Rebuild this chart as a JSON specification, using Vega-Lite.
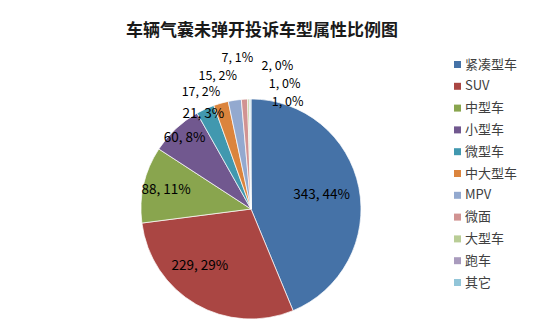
{
  "$schema": "https://vega.github.io/schema/vega-lite/v6.json",
  "width": 220,
  "height": 220,
  "autosize": {"type": "none"},
  "padding": {"left": 141, "top": 99, "right": 189, "bottom": 6},
  "background": "white",
  "title": {
    "text": "车辆气囊未弹开投诉车型属性比例图",
    "font": "Noto Sans CJK SC",
    "fontSize": 17,
    "fontWeight": "bold",
    "color": "#1a1a1a",
    "anchor": "middle",
    "frame": "group",
    "baseline": "middle",
    "dx": 11,
    "offset": 4
  },
  "data": {
    "values": [
      {"cat": "紧凑型车", "value": 343, "label": "343, 44%", "idx": 1},
      {"cat": "SUV", "value": 229, "label": "229, 29%", "idx": 2},
      {"cat": "中型车", "value": 88, "label": "88, 11%", "idx": 3},
      {"cat": "小型车", "value": 60, "label": "60, 8%", "idx": 4},
      {"cat": "微型车", "value": 21, "label": "21, 3%", "idx": 5},
      {"cat": "中大型车", "value": 17, "label": "17, 2%", "idx": 6},
      {"cat": "MPV", "value": 15, "label": "15, 2%", "idx": 7},
      {"cat": "微面", "value": 7, "label": "7, 1%", "idx": 8},
      {"cat": "大型车", "value": 2, "label": "2, 0%", "idx": 9},
      {"cat": "跑车", "value": 1, "label": "1, 0%", "idx": 10},
      {"cat": "其它", "value": 1, "label": "1, 0%", "idx": 11}
    ]
  },
  "encoding": {
    "theta": {"field": "value", "type": "quantitative", "stack": true},
    "order": {"field": "idx", "type": "quantitative", "sort": "ascending"}
  },
  "layer": [
    {
      "mark": {"type": "arc", "stroke": "white", "strokeWidth": 0.7},
      "encoding": {
        "color": {
          "field": "cat",
          "type": "nominal",
          "scale": {
            "domain": ["紧凑型车", "SUV", "中型车", "小型车", "微型车", "中大型车", "MPV", "微面", "大型车", "跑车", "其它"],
            "range": ["#4572A7", "#AA4643", "#89A54E", "#71588F", "#4198AF", "#DB843D", "#93A9CF", "#D19392", "#B9CD96", "#A99BBD", "#92C5D8"]
          },
          "legend": {
            "orient": "none",
            "legendX": 310,
            "legendY": -41,
            "title": null,
            "symbolType": "square",
            "symbolSize": 49,
            "symbolStrokeWidth": 0,
            "labelFont": "Noto Sans CJK SC",
            "labelFontSize": 13,
            "labelColor": "#404040",
            "labelOffset": 1,
            "rowPadding": 7.8,
            "padding": 0
          }
        }
      }
    },
    {
      "mark": {"type": "text", "radius": 72, "fontSize": 13.5, "font": "Noto Sans CJK SC", "color": "#000000"},
      "encoding": {"detail": {"field": "cat"}, "text": {"condition": {"test": "datum.cat === '紧凑型车'", "field": "label"}, "value": ""}}
    },
    {
      "mark": {"type": "text", "radius": 76, "dx": -13, "dy": -9, "fontSize": 13.5, "font": "Noto Sans CJK SC", "color": "#000000"},
      "encoding": {"detail": {"field": "cat"}, "text": {"condition": {"test": "datum.cat === 'SUV'", "field": "label"}, "value": ""}}
    },
    {
      "mark": {"type": "text", "radius": 87, "fontSize": 13.5, "font": "Noto Sans CJK SC", "color": "#000000"},
      "encoding": {"detail": {"field": "cat"}, "text": {"condition": {"test": "datum.cat === '中型车'", "field": "label"}, "value": ""}}
    },
    {
      "mark": {"type": "text", "radius": 97, "fontSize": 13.5, "font": "Noto Sans CJK SC", "color": "#000000"},
      "encoding": {"detail": {"field": "cat"}, "text": {"condition": {"test": "datum.cat === '小型车'", "field": "label"}, "value": ""}}
    },
    {
      "mark": {"type": "text", "radius": 105, "dx": -4, "fontSize": 13.5, "font": "Noto Sans CJK SC", "color": "#000000"},
      "encoding": {"detail": {"field": "cat"}, "text": {"condition": {"test": "datum.cat === '微型车'", "field": "label"}, "value": ""}}
    },
    {
      "mark": {"type": "text", "radius": 110, "dx": -20, "dy": -11, "fontSize": 12.5, "font": "Noto Sans CJK SC", "color": "#000000"},
      "encoding": {"detail": {"field": "cat"}, "text": {"condition": {"test": "datum.cat === '中大型车'", "field": "label"}, "value": ""}}
    },
    {
      "mark": {"type": "text", "radius": 110, "dx": -17, "dy": -24, "fontSize": 12.5, "font": "Noto Sans CJK SC", "color": "#000000"},
      "encoding": {"detail": {"field": "cat"}, "text": {"condition": {"test": "datum.cat === 'MPV'", "field": "label"}, "value": ""}}
    },
    {
      "mark": {"type": "text", "radius": 110, "dx": -7, "dy": -41, "fontSize": 12.5, "font": "Noto Sans CJK SC", "color": "#000000"},
      "encoding": {"detail": {"field": "cat"}, "text": {"condition": {"test": "datum.cat === '微面'", "field": "label"}, "value": ""}}
    },
    {
      "mark": {"type": "text", "radius": 110, "dx": 29, "dy": -33, "fontSize": 12.5, "font": "Noto Sans CJK SC", "color": "#000000"},
      "encoding": {"detail": {"field": "cat"}, "text": {"condition": {"test": "datum.cat === '大型车'", "field": "label"}, "value": ""}}
    },
    {
      "mark": {"type": "text", "radius": 110, "dx": 35, "dy": -15, "fontSize": 12.5, "font": "Noto Sans CJK SC", "color": "#000000"},
      "encoding": {"detail": {"field": "cat"}, "text": {"condition": {"test": "datum.cat === '跑车'", "field": "label"}, "value": ""}}
    },
    {
      "mark": {"type": "text", "radius": 110, "dx": 37, "dy": 3, "fontSize": 12.5, "font": "Noto Sans CJK SC", "color": "#000000"},
      "encoding": {"detail": {"field": "cat"}, "text": {"condition": {"test": "datum.cat === '其它'", "field": "label"}, "value": ""}}
    }
  ],
  "config": {"view": {"stroke": null}, "font": "Noto Sans CJK SC"}
}
